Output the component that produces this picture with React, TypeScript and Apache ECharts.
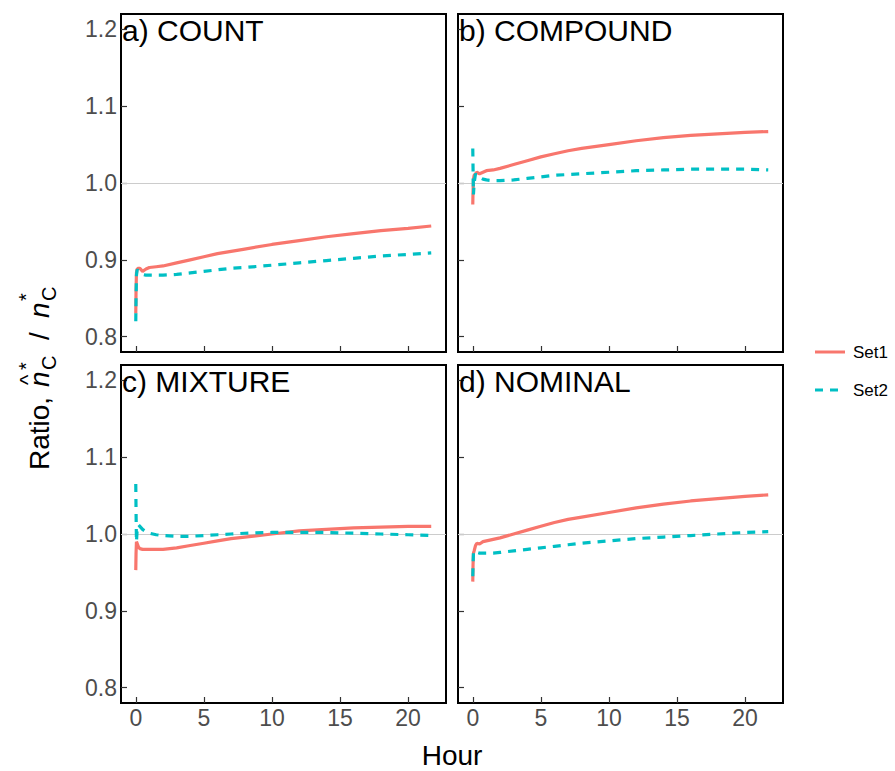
import React, { useEffect, useRef } from "react";
import * as echarts from "echarts";

const hours = [0, 0.02, 0.05, 0.1, 0.2, 0.3, 0.5, 0.75, 1, 1.5, 2, 3, 4, 5, 6, 7, 8, 10, 12, 14, 16, 18, 20, 21.7];

const panelTitles = ["a) COUNT", "b) COMPOUND", "c) MIXTURE", "d) NOMINAL"];
const seriesNames = ["Set1", "Set2"];
const xTicks = [0, 5, 10, 15, 20];
const yTicks = [0.8, 0.9, 1.0, 1.1, 1.2];

const countSet1 = [0.83, 0.86, 0.883, 0.888, 0.889, 0.889, 0.885, 0.888, 0.89, 0.891, 0.892, 0.896, 0.9, 0.904, 0.908, 0.911, 0.914, 0.92, 0.925, 0.93, 0.934, 0.938, 0.941, 0.944];
const countSet2 = [0.82, 0.85, 0.88, 0.887, 0.886, 0.884, 0.881, 0.88, 0.88, 0.88, 0.88, 0.881, 0.883, 0.885, 0.887, 0.889, 0.89, 0.893, 0.896, 0.899, 0.902, 0.905, 0.907, 0.909];
const compoundSet1 = [0.972, 0.99, 1.005, 1.01, 1.012, 1.014, 1.012, 1.014, 1.016, 1.017, 1.019, 1.024, 1.029, 1.034, 1.038, 1.042, 1.045, 1.05, 1.055, 1.059, 1.062, 1.064, 1.066, 1.067];
const compoundSet2 = [1.045, 1.02, 0.985, 1.0, 1.012, 1.01, 1.007, 1.005, 1.004, 1.003, 1.003, 1.004, 1.006, 1.008, 1.01, 1.011, 1.012, 1.014, 1.016, 1.017, 1.018, 1.018, 1.018, 1.017];
const mixtureSet1 = [0.953, 0.975, 0.99, 0.99, 0.983, 0.981, 0.98, 0.98, 0.98, 0.98, 0.98, 0.982, 0.985, 0.988, 0.991, 0.994, 0.996, 1.0, 1.004, 1.006, 1.008, 1.009, 1.01, 1.01];
const mixtureSet2 = [1.065, 1.03, 0.99, 1.005, 1.012, 1.01, 1.006, 1.003, 1.001, 0.999, 0.998, 0.997, 0.997, 0.998, 0.999, 1.0, 1.001, 1.002, 1.002, 1.002, 1.001, 1.0, 0.999, 0.998];
const nominalSet1 = [0.938, 0.96, 0.975, 0.978, 0.985, 0.988, 0.987, 0.99, 0.991, 0.993, 0.995, 1.0, 1.005, 1.01, 1.015, 1.019, 1.022, 1.028, 1.034, 1.039, 1.043, 1.046, 1.049, 1.051];
const nominalSet2 = [0.945, 0.96, 0.975, 0.978, 0.977, 0.976, 0.975, 0.975, 0.975, 0.975, 0.976, 0.978, 0.98, 0.982, 0.984, 0.986, 0.988, 0.991, 0.994, 0.996, 0.998, 1.0, 1.002, 1.003];

const panelData = [
  [countSet1, countSet2],
  [compoundSet1, compoundSet2],
  [mixtureSet1, mixtureSet2],
  [nominalSet1, nominalSet2],
];

const COLORS = ["#F8766D", "#00BFC4"];
const FONT = "Liberation Sans, Arial, sans-serif";

const grids = [
  { left: 121, top: 14, width: 325, height: 338 },
  { left: 458, top: 14, width: 325, height: 338 },
  { left: 121, top: 365, width: 325, height: 338 },
  { left: 458, top: 365, width: 325, height: 338 },
];

export default function App() {
  const ref = useRef<HTMLDivElement>(null);
  useEffect(() => {
    document.body.style.margin = "0";
    const chart = echarts.init(ref.current!, null, { renderer: "svg" });
    const xAxes: any[] = [];
    const yAxes: any[] = [];
    const series: any[] = [];
    grids.forEach((g, i) => {
      const showX = i >= 2;
      const showY = i % 2 === 0;
      xAxes.push({
        type: "value",
        gridIndex: i,
        min: -1.085,
        max: 22.785,
        axisLine: { show: false, onZero: false },
        splitLine: { show: false },
        axisTick: { show: true, inside: true, length: 6, customValues: xTicks, lineStyle: { color: "#333", width: 1.2 } },
        axisLabel: { show: showX, customValues: xTicks, margin: 3, color: "#4d4d4d", fontSize: 23, fontFamily: FONT },
      });
      yAxes.push({
        type: "value",
        gridIndex: i,
        min: 0.78,
        max: 1.22,
        axisLine: { show: false, onZero: false },
        splitLine: { show: false },
        axisTick: { show: true, inside: true, length: 6, customValues: yTicks, lineStyle: { color: "#333", width: 1.2 } },
        axisLabel: {
          show: showY,
          customValues: yTicks,
          margin: 4,
          color: "#4d4d4d",
          fontSize: 23,
          fontFamily: FONT,
          formatter: (v: number) => v.toFixed(1),
        },
      });
      panelData[i].forEach((vals, s) => {
        series.push({
          type: "line",
          name: seriesNames[s],
          xAxisIndex: i,
          yAxisIndex: i,
          data: hours.map((h, k) => [h, vals[k]]),
          showSymbol: false,
          symbol: "none",
          smooth: false,
          z: 3 + s,
          lineStyle: { color: COLORS[s], width: 3.2, type: s === 1 ? [8, 7] : "solid" },
          markLine:
            s === 0
              ? {
                  silent: true,
                  symbol: "none",
                  label: { show: false },
                  lineStyle: { color: "#cccccc", width: 1, type: "solid" },
                  data: [{ yAxis: 1 }],
                  z: 1,
                }
              : undefined,
        });
      });
    });

    const graphics: any[] = [];
    grids.forEach((g, i) => {
      graphics.push({
        type: "text",
        left: g.left + 1,
        top: g.top + 1,
        z: 10,
        style: { text: panelTitles[i], fontSize: 30, fontFamily: FONT, fill: "#000" },
      });
    });
    // legend
    graphics.push({ type: "line", shape: { x1: 815, y1: 352, x2: 845, y2: 352 }, style: { stroke: COLORS[0], lineWidth: 3 } });
    graphics.push({ type: "text", x: 853, y: 352, style: { text: "Set1", fontSize: 17, fontFamily: FONT, fill: "#000", verticalAlign: "middle" } });
    graphics.push({ type: "line", shape: { x1: 815, y1: 390, x2: 845, y2: 390 }, style: { stroke: COLORS[1], lineWidth: 3, lineDash: [8, 7] } });
    graphics.push({ type: "text", x: 853, y: 390, style: { text: "Set2", fontSize: 17, fontFamily: FONT, fill: "#000", verticalAlign: "middle" } });
    // x axis title
    graphics.push({ type: "text", x: 452, y: 755, style: { text: "Hour", fontSize: 28, fontFamily: FONT, fill: "#000", align: "center", verticalAlign: "middle" } });
    // y axis title (rotated group)
    graphics.push({
      type: "group",
      x: 53,
      y: 470,
      rotation: Math.PI / 2,
      children: [
        { type: "text", x: 0, y: 0, style: { text: "Ratio, ", fontSize: 28, fontFamily: FONT, fill: "#000", verticalAlign: "bottom" } },
        { type: "text", x: 83, y: 0, style: { text: "n", fontSize: 28, fontStyle: "italic", fontFamily: FONT, fill: "#000", verticalAlign: "bottom" } },
        { type: "text", x: 85, y: -15, style: { text: "^", fontSize: 22, fontFamily: FONT, fill: "#000", verticalAlign: "bottom" } },
        { type: "text", x: 100, y: -17, style: { text: "*", fontSize: 20, fontFamily: FONT, fill: "#000", verticalAlign: "bottom" } },
        { type: "text", x: 100, y: 6, style: { text: "C", fontSize: 20, fontFamily: FONT, fill: "#000", verticalAlign: "bottom" } },
        { type: "text", x: 130, y: 0, style: { text: "/", fontSize: 28, fontFamily: FONT, fill: "#000", verticalAlign: "bottom" } },
        { type: "text", x: 152, y: 0, style: { text: "n", fontSize: 28, fontStyle: "italic", fontFamily: FONT, fill: "#000", verticalAlign: "bottom" } },
        { type: "text", x: 169, y: -17, style: { text: "*", fontSize: 20, fontFamily: FONT, fill: "#000", verticalAlign: "bottom" } },
        { type: "text", x: 169, y: 6, style: { text: "C", fontSize: 20, fontFamily: FONT, fill: "#000", verticalAlign: "bottom" } },
      ],
    });

    chart.setOption({
      animation: false,
      backgroundColor: "#fff",
      grid: grids.map((g) => ({ ...g, show: true, borderColor: "#000", borderWidth: 2, backgroundColor: "transparent", containLabel: false })),
      xAxis: xAxes,
      yAxis: yAxes,
      series,
      graphic: graphics,
    });
    return () => chart.dispose();
  }, []);
  return <div ref={ref} style={{ width: 895, height: 771 }} />;
}
